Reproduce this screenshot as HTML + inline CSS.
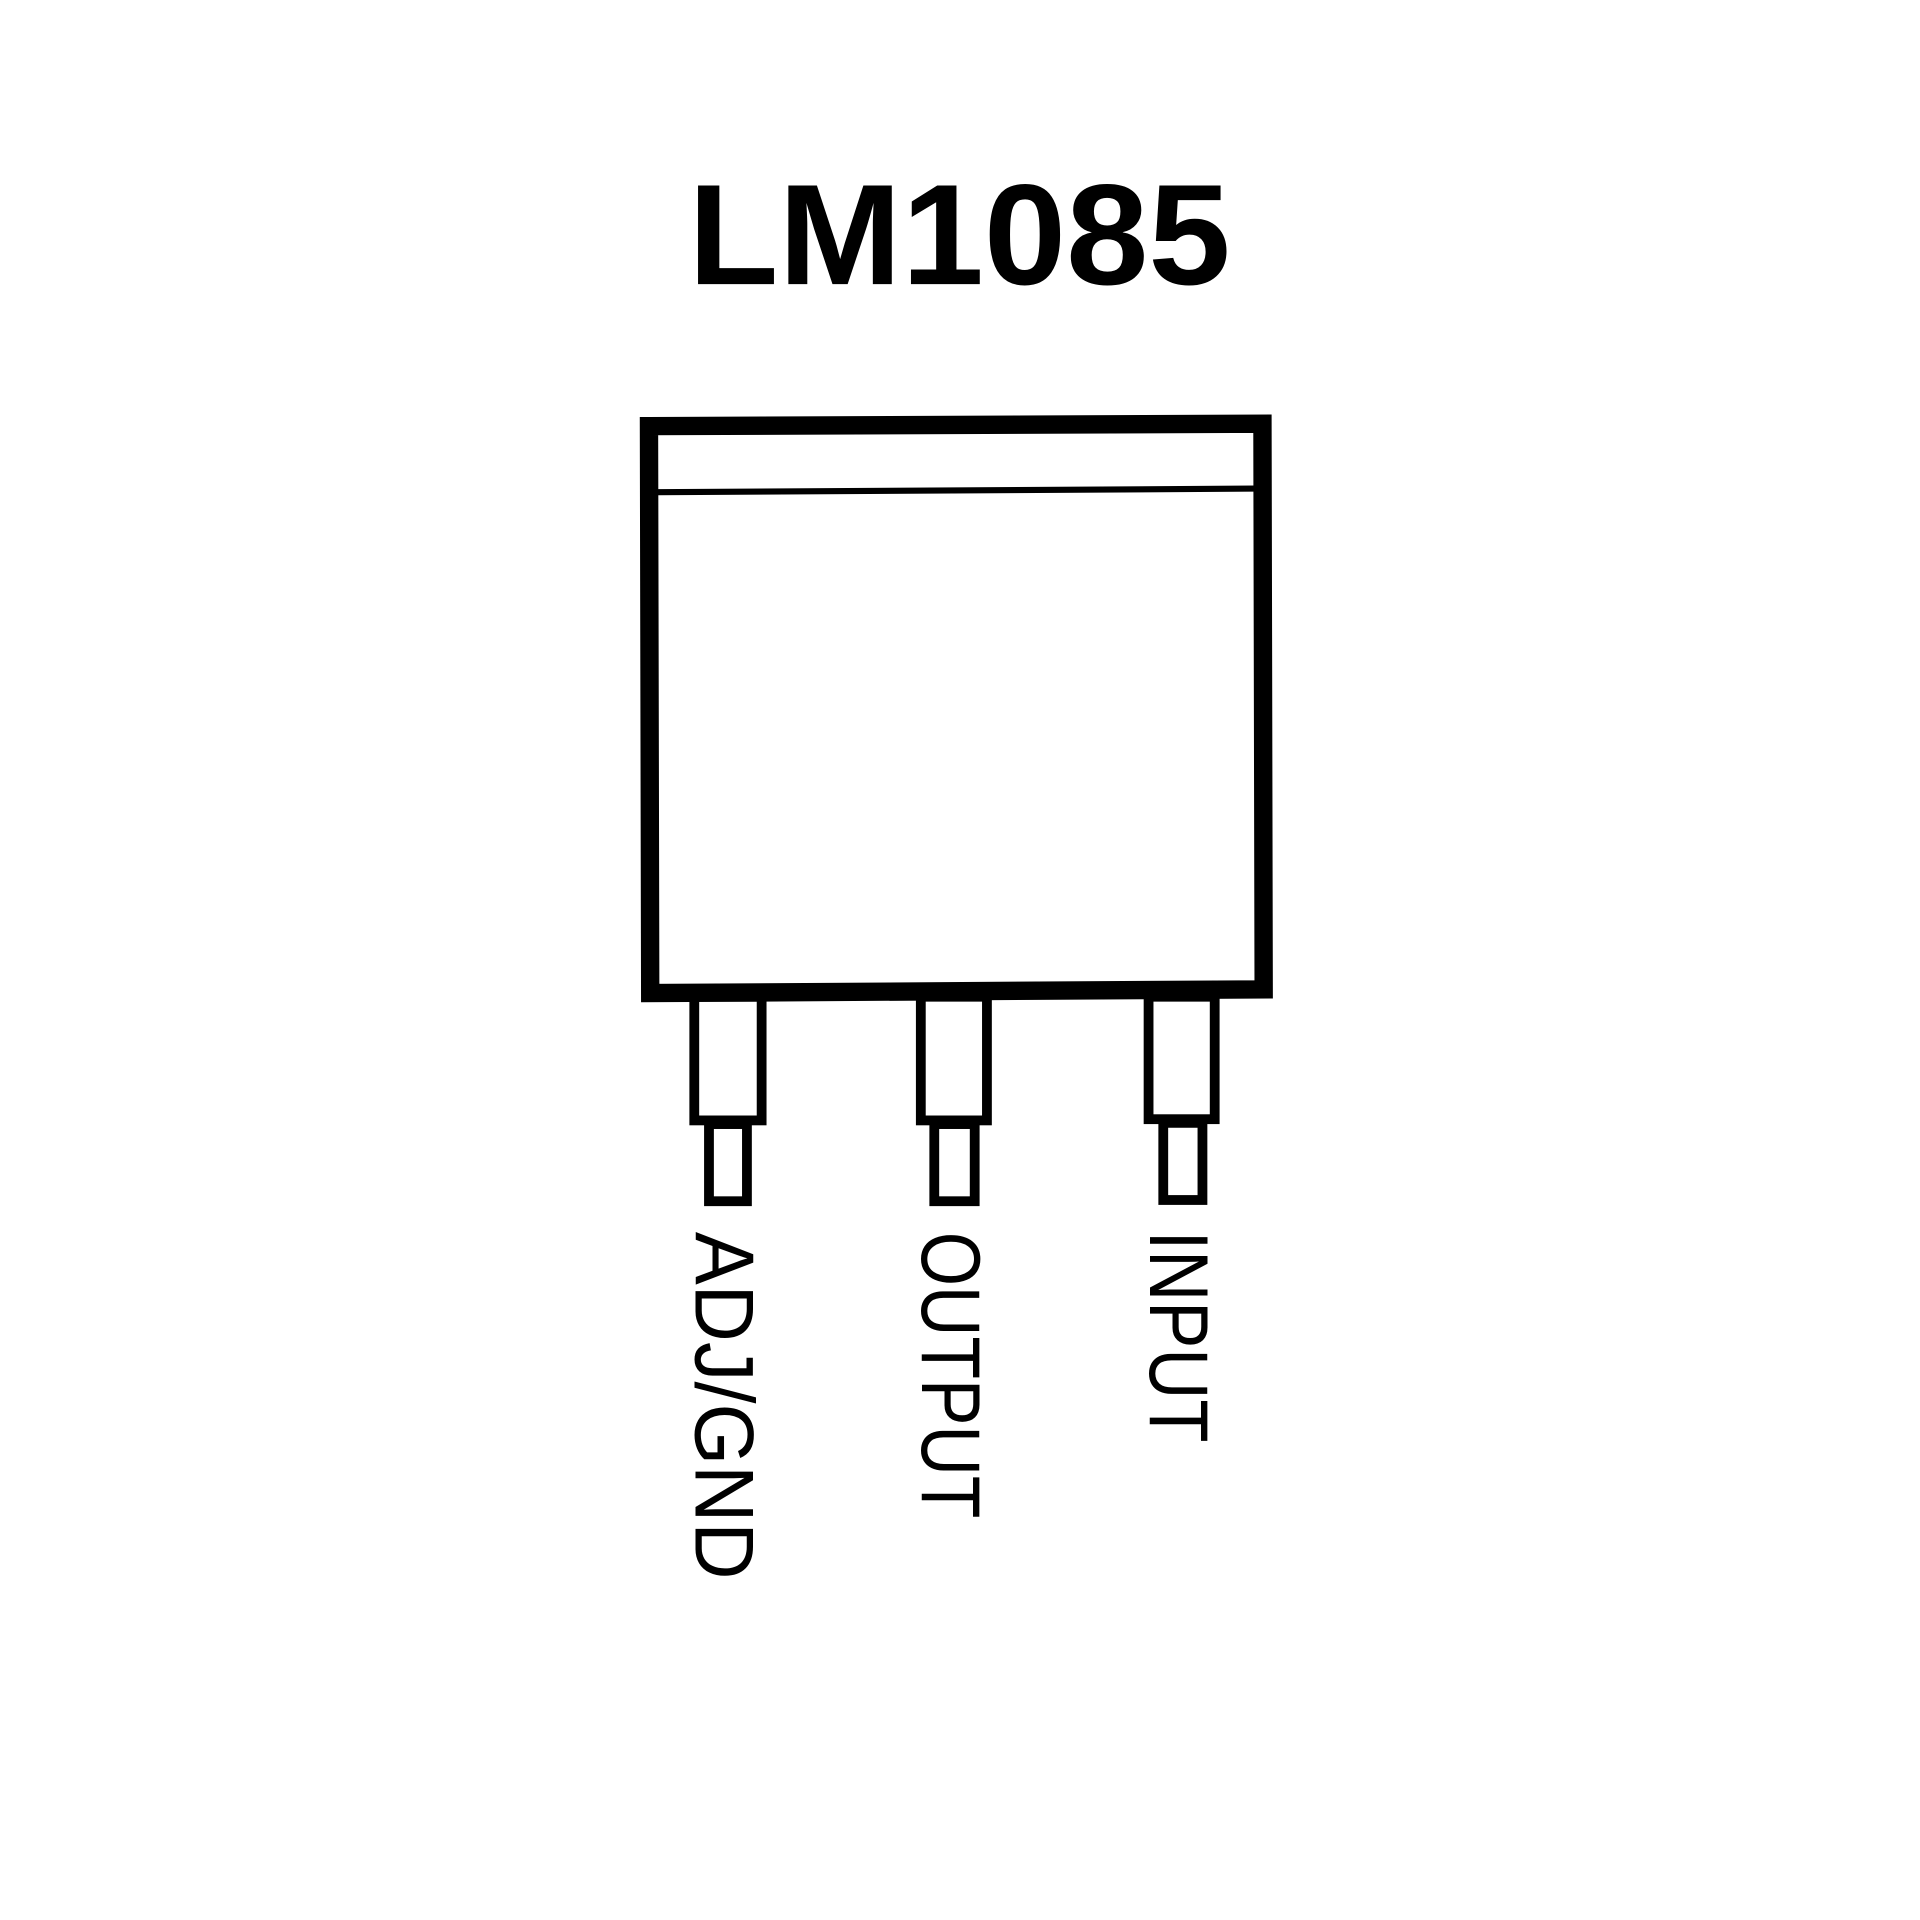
<!DOCTYPE html>
<html><head><meta charset="utf-8"><style>html,body{margin:0;padding:0;background:#fff}svg{display:block}</style></head>
<body>
<svg width="1920" height="1920" viewBox="0 0 1568 1568" xmlns="http://www.w3.org/2000/svg">
<rect width="1568" height="1568" fill="#fff"/>
<text x="562" y="232" font-family="Liberation Sans, sans-serif" font-weight="bold" font-size="117" textLength="443" lengthAdjust="spacingAndGlyphs">LM1085</text>
<polygon points="530,348 1031,346 1032,808 531,811" fill="none" stroke="#000" stroke-width="15"/>
<line x1="537" y1="402" x2="1025" y2="399" stroke="#000" stroke-width="5"/>
<g fill="none" stroke="#000" stroke-width="8">
<rect x="567" y="814" width="55" height="101"/>
<rect x="579" y="918" width="31" height="63"/>
<rect x="752" y="814" width="54" height="101"/>
<rect x="763" y="918" width="33" height="63"/>
<rect x="938" y="814" width="54" height="100"/>
<rect x="950" y="917" width="32" height="63"/>
</g>
<g font-family="Liberation Sans, sans-serif" font-size="68" fill="#000">
<text transform="translate(568,1006) rotate(90)" textLength="284" lengthAdjust="spacingAndGlyphs">ADJ/GND</text>
<text transform="translate(753,1006) rotate(90)" textLength="234" lengthAdjust="spacingAndGlyphs">OUTPUT</text>
<text transform="translate(939,1005) rotate(90)" textLength="173" lengthAdjust="spacingAndGlyphs">INPUT</text>
</g>
</svg>
</body></html>
